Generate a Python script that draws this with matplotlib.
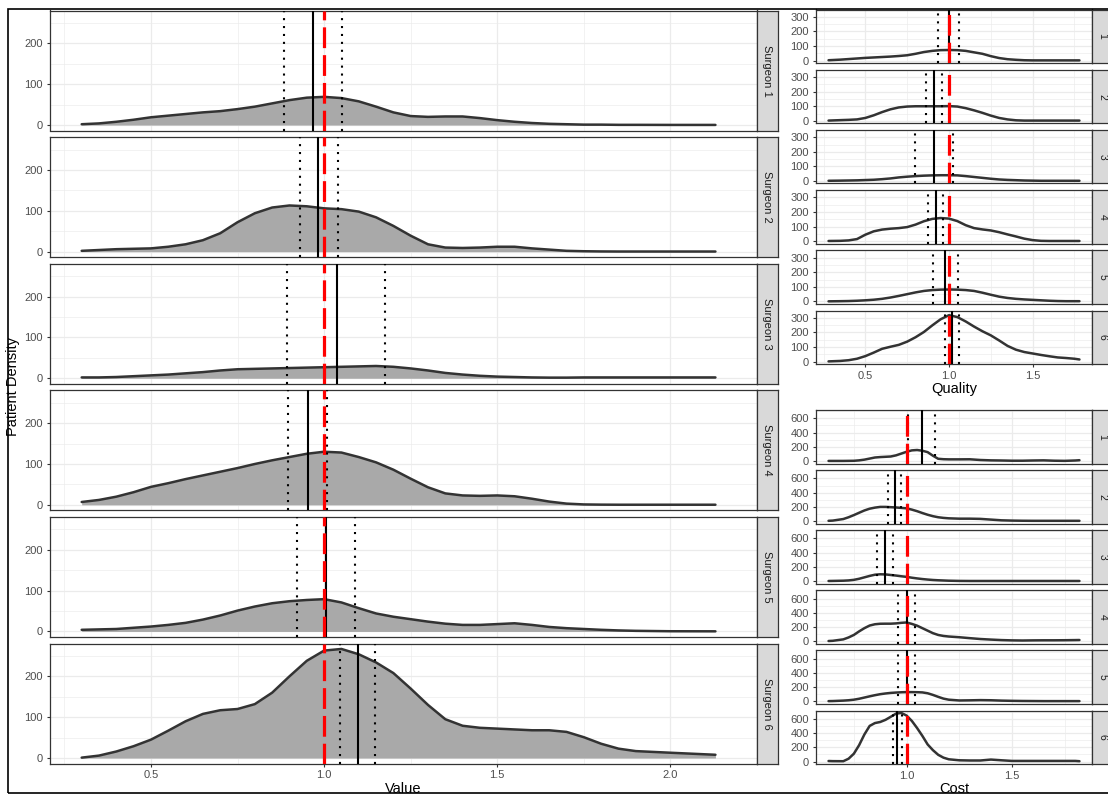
import numpy as np
import matplotlib
matplotlib.use("Agg")
import matplotlib.pyplot as plt
from matplotlib.patches import Rectangle

plt.rcParams["font.family"] = ["Liberation Sans", "DejaVu Sans"]

# ---------------- data ----------------
surgeons = ["Surgeon 1", "Surgeon 2", "Surgeon 3", "Surgeon 4", "Surgeon 5", "Surgeon 6"]
short_labels = ["1", "2", "3", "4", "5", "6"]

# Value density (left column)
value_x = [0.30, 0.35, 0.40, 0.45, 0.50, 0.55, 0.60, 0.65, 0.70, 0.75, 0.80, 0.85,
           0.90, 0.95, 1.00, 1.05, 1.10, 1.15, 1.20, 1.25, 1.30, 1.35, 1.40, 1.45,
           1.50, 1.55, 1.60, 1.65, 1.70, 1.75, 1.80, 1.85, 1.90, 2.00, 2.13]
value_s1 = [2, 4, 8, 13, 19, 23, 27, 31, 34, 39, 45, 53, 61, 67, 69, 66, 58, 45, 31, 22,
            20, 21, 21, 17, 12, 8, 5, 3, 2, 1, 1, 0.5, 0.5, 0.3, 0.3]
value_s2 = [2, 4, 6, 7, 8, 12, 18, 28, 45, 72, 94, 108, 113, 111, 106, 104, 98, 84, 63, 39,
            18, 10, 9, 10, 12, 12, 8, 5, 2, 1, 0.5, 0.3, 0.3, 0.3, 0.3]
value_s3 = [2, 2, 3, 5, 7, 9, 12, 15, 19, 22, 23, 24, 25, 26, 27, 28, 29, 30, 28, 24,
            19, 13, 9, 6, 4, 3, 2, 1.5, 1.5, 2, 2, 2, 2, 2, 2]
value_s4 = [7, 12, 20, 31, 44, 53, 63, 72, 81, 90, 100, 109, 117, 125, 130, 128, 117, 104, 86, 64,
            43, 28, 23, 22, 23, 21, 15, 8, 3, 1, 0.5, 0.3, 0.3, 0.3, 0.3]
value_s5 = [4, 5, 6, 9, 12, 16, 21, 29, 39, 51, 61, 69, 74, 77, 79, 71, 57, 44, 36, 30,
            24, 19, 16, 16, 18, 20, 16, 11, 8, 6, 4, 2.5, 1.5, 0.5, 0.3]
value_s6 = [1, 6, 16, 29, 45, 67, 90, 108, 117, 120, 132, 160, 200, 238, 263, 267, 254, 234, 208, 170,
            130, 95, 79, 74, 72, 70, 68, 68, 64, 51, 35, 23, 17, 13, 8]
value_lo = [0.883, 0.929, 0.894, 0.897, 0.923, 1.047]
value_mid = [0.967, 0.983, 1.036, 0.954, 1.006, 1.097]
value_hi = [1.051, 1.039, 1.177, 1.009, 1.090, 1.147]

# Quality density (right top)
quality_x = [0.28, 0.35, 0.40, 0.45, 0.50, 0.55, 0.60, 0.65, 0.70, 0.75, 0.80, 0.85, 0.90,
             0.95, 1.00, 1.05, 1.10, 1.15, 1.20, 1.25, 1.30, 1.35, 1.40, 1.45, 1.50, 1.55,
             1.60, 1.65, 1.70, 1.75, 1.78]
quality_s1 = [3, 7, 11, 15, 19, 22, 25, 28, 32, 37, 47, 59, 67, 72, 73, 72, 67, 57, 47, 31,
              18, 10, 6, 3, 2, 2, 2, 2, 2, 2, 2]
quality_s2 = [2, 5, 7, 10, 20, 38, 60, 79, 92, 98, 100, 100, 100, 100, 101, 98, 87, 72, 55, 36,
              20, 10, 4, 2, 2, 2, 2, 2, 2, 2, 2]
quality_s3 = [2, 3, 4, 5, 7, 9, 13, 18, 25, 30, 34, 37, 39, 40, 40, 39, 34, 28, 22, 16,
              11, 8, 6, 4, 3, 2, 2, 2, 2, 2, 2]
quality_s4 = [2, 3, 6, 15, 45, 68, 80, 86, 90, 97, 114, 137, 153, 159, 155, 138, 110, 90, 81, 74,
              62, 47, 33, 18, 8, 3, 2, 2, 2, 2, 2]
quality_s5 = [1, 2, 3, 5, 8, 12, 18, 27, 38, 50, 62, 72, 78, 81, 82, 81, 78, 72, 60, 46,
              33, 24, 18, 14, 11, 8, 5, 3, 2, 2, 2]
quality_s6 = [2, 5, 10, 20, 38, 62, 88, 102, 115, 137, 167, 203, 248, 290, 318, 305, 275, 240, 208, 180,
              145, 108, 82, 66, 56, 46, 37, 29, 25, 20, 15]
quality_lo = [0.933, 0.861, 0.796, 0.873, 0.907, 0.978]
quality_mid = [1.000, 0.913, 0.913, 0.923, 0.978, 1.020]
quality_hi = [1.060, 0.960, 1.022, 0.964, 1.054, 1.058]

# Cost density (right bottom)
cost_x = [0.63, 0.65, 0.70, 0.725, 0.75, 0.775, 0.80, 0.825, 0.85, 0.875, 0.90, 0.925,
          0.95, 0.975, 1.00, 1.025, 1.05, 1.075, 1.10, 1.125, 1.15, 1.175, 1.20, 1.25,
          1.30, 1.35, 1.40, 1.45, 1.50, 1.55, 1.60, 1.65, 1.70, 1.75, 1.80, 1.82]
cost_s1 = [2, 2, 2, 3, 4, 10, 20, 35, 50, 56, 60, 64, 80, 105, 130, 150, 155, 145, 125, 75,
           32, 26, 24, 24, 25, 15, 10, 8, 5, 5, 8, 10, 5, 3, 8, 12]
cost_s2 = [5, 8, 30, 55, 85, 118, 150, 175, 190, 200, 200, 196, 192, 186, 180, 162, 140, 114, 90, 70,
           55, 46, 40, 35, 35, 32, 22, 12, 8, 6, 5, 5, 5, 5, 5, 5]
cost_s3 = [4, 5, 8, 12, 20, 35, 55, 75, 92, 98, 96, 88, 80, 70, 62, 50, 40, 31, 24, 18,
           14, 11, 8, 5, 4, 4, 4, 4, 4, 4, 4, 4, 4, 4, 4, 4]
cost_s4 = [5, 8, 28, 55, 90, 140, 185, 222, 240, 247, 248, 248, 252, 260, 265, 245, 220, 185, 150, 115,
           90, 76, 68, 58, 45, 33, 25, 18, 14, 12, 14, 15, 15, 16, 18, 19]
cost_s5 = [5, 6, 12, 17, 25, 38, 55, 72, 88, 102, 112, 120, 125, 129, 131, 131, 130, 127, 115, 92,
           65, 40, 25, 14, 16, 19, 17, 12, 9, 7, 6, 5, 5, 5, 5, 5]
cost_s6 = [8, 6, 5, 40, 110, 230, 380, 500, 540, 555, 585, 628, 672, 682, 645, 570, 470, 360, 240, 160,
           95, 55, 32, 18, 15, 15, 28, 18, 9, 9, 9, 9, 9, 9, 9, 5]
cost_lo = [1.008, 0.910, 0.860, 0.961, 0.961, 0.934]
cost_mid = [1.074, 0.945, 0.897, 1.000, 1.000, 0.956]
cost_hi = [1.134, 0.976, 0.937, 1.039, 1.039, 0.978]

reference = 1.0

# ---------------- figure ----------------
W, H = 1108, 795
fig = plt.figure(figsize=(W / 100, H / 100), dpi=100)

GRID = "#EBEBEB"
DARK = "#333333"


def px_axes(left, top, width, height):
    return fig.add_axes([left / W, 1 - (top + height) / H, width / W, height / H])


def expand(vals):
    lo, hi = min(vals), max(vals)
    pad = 0.05 * (hi - lo)
    return lo - pad, hi + pad


def facet(left, top, width, height, x, y, lo, mid, hi, label, xlim, ylim,
          xticks, yticks, show_x, fill, strip_fs):
    ax = px_axes(left, top, width, height)
    if fill:
        ax.fill_between(x, 0, y, color="#A9A9A9", lw=0, zorder=2)
    ax.plot(x, y, color=DARK, lw=1.8, zorder=3, solid_capstyle="round", solid_joinstyle="round")
    for v in (lo, hi):
        ax.axvline(v, color="black", lw=1.5, ls=(0, (1, 2.8)), dash_capstyle="butt", zorder=4)
    ax.axvline(mid, color="black", lw=1.5, zorder=4)
    ax.axvline(reference, color="red", lw=2.3, ls=(0, (6.5, 2.2)), zorder=5)
    ax.set_xlim(xlim)
    ax.set_ylim(ylim)
    ax.set_xticks(xticks)
    ax.set_yticks(yticks)
    xt = np.array(xticks)
    yt = np.array(yticks)
    step_x = xt[1] - xt[0]
    step_y = yt[1] - yt[0]
    ax.set_xticks(np.concatenate([[xt[0] - step_x / 2], (xt[:-1] + xt[1:]) / 2,
                                  [xt[-1] + step_x / 2]]), minor=True)
    ax.set_yticks(np.concatenate([(yt[:-1] + yt[1:]) / 2, [yt[-1] + step_y / 2]]), minor=True)
    ax.set_yticklabels([str(v) for v in yticks])
    ax.set_xticklabels(["%.1f" % v for v in xticks])
    ax.grid(which="major", color=GRID, lw=0.9)
    ax.grid(which="minor", color=GRID, lw=0.45)
    ax.set_axisbelow(True)
    for s in ax.spines.values():
        s.set_color(DARK)
        s.set_linewidth(0.9)
    ax.tick_params(which="major", length=2.5, width=0.8, color=DARK,
                   labelsize=8, labelcolor="#4D4D4D", pad=2.5)
    ax.tick_params(which="minor", length=0)
    if not show_x:
        ax.tick_params(axis="x", which="major", length=0, labelbottom=False)
    # strip on the right
    st = px_axes(left + width, top, 21, height)
    st.set_facecolor("#D9D9D9")
    st.set_xticks([])
    st.set_yticks([])
    for s in st.spines.values():
        s.set_color(DARK)
        s.set_linewidth(0.9)
    st.text(0.5, 0.5, label, rotation=-90, ha="center", va="center",
            fontsize=strip_fs, color="#1A1A1A", transform=st.transAxes)
    return ax


# left column: Value
value_series = [value_s1, value_s2, value_s3, value_s4, value_s5, value_s6]
v_ylim = expand([0] + [max(s) for s in value_series])
v_xlim = expand(value_x)
for i, ys in enumerate(value_series):
    facet(50, 10.5 + i * 126.6, 707, 120, value_x, ys, value_lo[i], value_mid[i], value_hi[i],
          surgeons[i], v_xlim, v_ylim, [0.5, 1.0, 1.5, 2.0], [0, 100, 200],
          i == 5, True, 8)

# right top: Quality
quality_series = [quality_s1, quality_s2, quality_s3, quality_s4, quality_s5, quality_s6]
q_ylim = expand([0] + [max(s) for s in quality_series])
q_xlim = expand(quality_x)
for i, ys in enumerate(quality_series):
    facet(816, 9.5 + i * 60.2, 276, 53.5, quality_x, ys, quality_lo[i], quality_mid[i], quality_hi[i],
          short_labels[i], q_xlim, q_ylim, [0.5, 1.0, 1.5], [0, 100, 200, 300],
          i == 5, False, 7.5)

# right bottom: Cost
cost_series = [cost_s1, cost_s2, cost_s3, cost_s4, cost_s5, cost_s6]
c_ylim = expand([0] + [max(s) for s in cost_series])
c_xlim = expand(cost_x)
for i, ys in enumerate(cost_series):
    facet(816, 410 + i * 60.1, 276, 53.5, cost_x, ys, cost_lo[i], cost_mid[i], cost_hi[i],
          short_labels[i], c_xlim, c_ylim, [1.0, 1.5], [0, 200, 400, 600],
          i == 5, False, 7.5)

# axis titles
fig.text(403 / W, 1 - 789 / H, "Value", ha="center", va="center", fontsize=10.5)
fig.text(954 / W, 1 - 389 / H, "Quality", ha="center", va="center", fontsize=10.5)
fig.text(954 / W, 1 - 789 / H, "Cost", ha="center", va="center", fontsize=10.5)
fig.text(13 / W, 1 - 387 / H, "Patient Density", rotation=90, ha="center", va="center", fontsize=10.5)

# outer frame
fig.add_artist(Rectangle((8 / W, 1 - 793 / H), 1.05 - 8 / W, 784 / H, transform=fig.transFigure,
                         fill=False, edgecolor="black", lw=1.2, clip_on=False))

fig.savefig("out.png", dpi=100)
